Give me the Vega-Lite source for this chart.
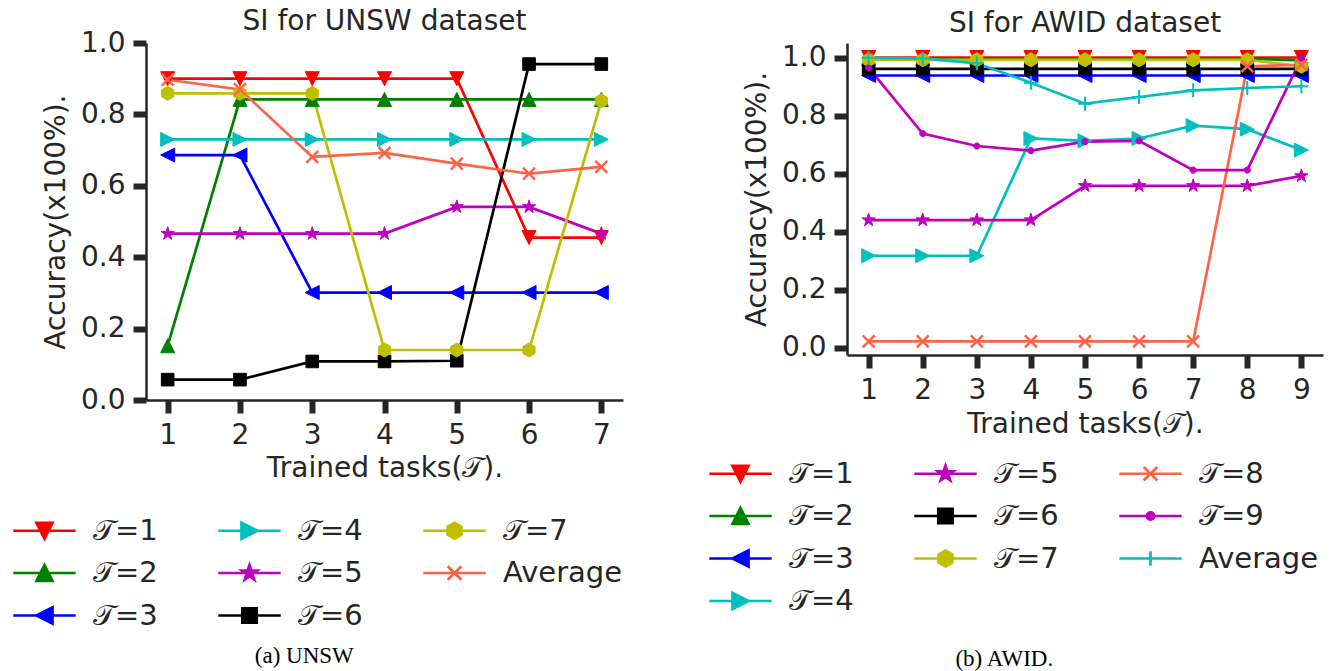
{
  "$schema": "https://vega.github.io/schema/vega-lite/v6.json",
  "padding": {"left": 30, "top": 8, "right": 5, "bottom": 5},
  "config": {
    "font": "DejaVu Sans",
    "view": {"stroke": null},
    "axis": {"domainColor": "#262626", "domainWidth": 2.5, "tickColor": "#262626", "tickWidth": 6, "tickSize": 13, "labelFontSize": 28, "labelColor": "#262626", "titleFontSize": 28, "titleFontWeight": "normal", "titleColor": "#262626", "grid": false, "labelPadding": 8},
    "title": {"fontSize": 28, "fontWeight": "normal", "color": "#262626"},
    "legend": {"labelFontSize": 29, "labelColor": "#262626", "symbolSize": 256, "symbolOffset": 0, "labelOffset": 34, "columnPadding": 54, "rowPadding": 12.5, "padding": 0, "symbolStrokeWidth": 2.7, "symbolOpacity": 1, "labelLimit": 300}
  },
  "datasets": {
    "unsw": [
      {"s": "1", "x": 1, "acc": 0.90}, {"s": "1", "x": 2, "acc": 0.90}, {"s": "1", "x": 3, "acc": 0.90}, {"s": "1", "x": 4, "acc": 0.90}, {"s": "1", "x": 5, "acc": 0.90}, {"s": "1", "x": 6, "acc": 0.455}, {"s": "1", "x": 7, "acc": 0.455},
      {"s": "2", "x": 1, "acc": 0.152}, {"s": "2", "x": 2, "acc": 0.842}, {"s": "2", "x": 3, "acc": 0.842}, {"s": "2", "x": 4, "acc": 0.842}, {"s": "2", "x": 5, "acc": 0.842}, {"s": "2", "x": 6, "acc": 0.842}, {"s": "2", "x": 7, "acc": 0.842},
      {"s": "3", "x": 1, "acc": 0.686}, {"s": "3", "x": 2, "acc": 0.686}, {"s": "3", "x": 3, "acc": 0.301}, {"s": "3", "x": 4, "acc": 0.301}, {"s": "3", "x": 5, "acc": 0.301}, {"s": "3", "x": 6, "acc": 0.301}, {"s": "3", "x": 7, "acc": 0.301},
      {"s": "4", "x": 1, "acc": 0.730}, {"s": "4", "x": 2, "acc": 0.730}, {"s": "4", "x": 3, "acc": 0.730}, {"s": "4", "x": 4, "acc": 0.730}, {"s": "4", "x": 5, "acc": 0.730}, {"s": "4", "x": 6, "acc": 0.730}, {"s": "4", "x": 7, "acc": 0.730},
      {"s": "5", "x": 1, "acc": 0.466}, {"s": "5", "x": 2, "acc": 0.466}, {"s": "5", "x": 3, "acc": 0.466}, {"s": "5", "x": 4, "acc": 0.466}, {"s": "5", "x": 5, "acc": 0.541}, {"s": "5", "x": 6, "acc": 0.541}, {"s": "5", "x": 7, "acc": 0.466},
      {"s": "6", "x": 1, "acc": 0.057}, {"s": "6", "x": 2, "acc": 0.057}, {"s": "6", "x": 3, "acc": 0.108}, {"s": "6", "x": 4, "acc": 0.108}, {"s": "6", "x": 5, "acc": 0.110}, {"s": "6", "x": 6, "acc": 0.941}, {"s": "6", "x": 7, "acc": 0.941},
      {"s": "7", "x": 1, "acc": 0.859}, {"s": "7", "x": 2, "acc": 0.859}, {"s": "7", "x": 3, "acc": 0.859}, {"s": "7", "x": 4, "acc": 0.140}, {"s": "7", "x": 5, "acc": 0.140}, {"s": "7", "x": 6, "acc": 0.140}, {"s": "7", "x": 7, "acc": 0.838},
      {"s": "Average", "x": 1, "acc": 0.897}, {"s": "Average", "x": 2, "acc": 0.870}, {"s": "Average", "x": 3, "acc": 0.681}, {"s": "Average", "x": 4, "acc": 0.692}, {"s": "Average", "x": 5, "acc": 0.662}, {"s": "Average", "x": 6, "acc": 0.634}, {"s": "Average", "x": 7, "acc": 0.653}
    ],
    "awid": [
      {"s": "1", "x": 1, "acc": 1.0}, {"s": "1", "x": 2, "acc": 1.0}, {"s": "1", "x": 3, "acc": 1.0}, {"s": "1", "x": 4, "acc": 1.0}, {"s": "1", "x": 5, "acc": 1.0}, {"s": "1", "x": 6, "acc": 1.0}, {"s": "1", "x": 7, "acc": 1.0}, {"s": "1", "x": 8, "acc": 1.0}, {"s": "1", "x": 9, "acc": 1.0},
      {"s": "2", "x": 1, "acc": 0.996}, {"s": "2", "x": 2, "acc": 0.996}, {"s": "2", "x": 3, "acc": 0.996}, {"s": "2", "x": 4, "acc": 0.996}, {"s": "2", "x": 5, "acc": 0.996}, {"s": "2", "x": 6, "acc": 0.996}, {"s": "2", "x": 7, "acc": 0.996}, {"s": "2", "x": 8, "acc": 0.996}, {"s": "2", "x": 9, "acc": 0.99},
      {"s": "3", "x": 1, "acc": 0.938}, {"s": "3", "x": 2, "acc": 0.938}, {"s": "3", "x": 3, "acc": 0.938}, {"s": "3", "x": 4, "acc": 0.938}, {"s": "3", "x": 5, "acc": 0.938}, {"s": "3", "x": 6, "acc": 0.938}, {"s": "3", "x": 7, "acc": 0.938}, {"s": "3", "x": 8, "acc": 0.938}, {"s": "3", "x": 9, "acc": 0.938},
      {"s": "4", "x": 1, "acc": 0.317}, {"s": "4", "x": 2, "acc": 0.317}, {"s": "4", "x": 3, "acc": 0.317}, {"s": "4", "x": 4, "acc": 0.721}, {"s": "4", "x": 5, "acc": 0.713}, {"s": "4", "x": 6, "acc": 0.721}, {"s": "4", "x": 7, "acc": 0.765}, {"s": "4", "x": 8, "acc": 0.753}, {"s": "4", "x": 9, "acc": 0.681},
      {"s": "5", "x": 1, "acc": 0.440}, {"s": "5", "x": 2, "acc": 0.440}, {"s": "5", "x": 3, "acc": 0.440}, {"s": "5", "x": 4, "acc": 0.440}, {"s": "5", "x": 5, "acc": 0.558}, {"s": "5", "x": 6, "acc": 0.558}, {"s": "5", "x": 7, "acc": 0.558}, {"s": "5", "x": 8, "acc": 0.558}, {"s": "5", "x": 9, "acc": 0.592},
      {"s": "6", "x": 1, "acc": 0.961}, {"s": "6", "x": 2, "acc": 0.961}, {"s": "6", "x": 3, "acc": 0.961}, {"s": "6", "x": 4, "acc": 0.961}, {"s": "6", "x": 5, "acc": 0.961}, {"s": "6", "x": 6, "acc": 0.961}, {"s": "6", "x": 7, "acc": 0.961}, {"s": "6", "x": 8, "acc": 0.961}, {"s": "6", "x": 9, "acc": 0.961},
      {"s": "7", "x": 1, "acc": 0.992}, {"s": "7", "x": 2, "acc": 0.992}, {"s": "7", "x": 3, "acc": 0.992}, {"s": "7", "x": 4, "acc": 0.992}, {"s": "7", "x": 5, "acc": 0.992}, {"s": "7", "x": 6, "acc": 0.992}, {"s": "7", "x": 7, "acc": 0.992}, {"s": "7", "x": 8, "acc": 0.992}, {"s": "7", "x": 9, "acc": 0.97},
      {"s": "8", "x": 1, "acc": 0.022}, {"s": "8", "x": 2, "acc": 0.022}, {"s": "8", "x": 3, "acc": 0.022}, {"s": "8", "x": 4, "acc": 0.022}, {"s": "8", "x": 5, "acc": 0.022}, {"s": "8", "x": 6, "acc": 0.022}, {"s": "8", "x": 7, "acc": 0.022}, {"s": "8", "x": 8, "acc": 0.97}, {"s": "8", "x": 9, "acc": 0.975},
      {"s": "9", "x": 1, "acc": 0.964}, {"s": "9", "x": 2, "acc": 0.738}, {"s": "9", "x": 3, "acc": 0.695}, {"s": "9", "x": 4, "acc": 0.679}, {"s": "9", "x": 5, "acc": 0.710}, {"s": "9", "x": 6, "acc": 0.713}, {"s": "9", "x": 7, "acc": 0.612}, {"s": "9", "x": 8, "acc": 0.612}, {"s": "9", "x": 9, "acc": 0.998},
      {"s": "Average", "x": 1, "acc": 0.999}, {"s": "Average", "x": 2, "acc": 0.997}, {"s": "Average", "x": 3, "acc": 0.98}, {"s": "Average", "x": 4, "acc": 0.913}, {"s": "Average", "x": 5, "acc": 0.841}, {"s": "Average", "x": 6, "acc": 0.864}, {"s": "Average", "x": 7, "acc": 0.887}, {"s": "Average", "x": 8, "acc": 0.895}, {"s": "Average", "x": 9, "acc": 0.901}
    ]
  },
  "spacing": 93,
  "resolve": {"scale": {"color": "independent", "shape": "independent", "fill": "independent"}, "legend": {"color": "independent", "shape": "independent", "fill": "independent"}},
  "hconcat": [
    {
      "title": {"text": "(a) UNSW", "orient": "bottom", "frame": "bounds", "anchor": "middle", "font": "Liberation Serif", "fontSize": 23, "fontWeight": "normal", "color": "#000000", "offset": 14, "dx": -27},
      "vconcat": [
        {
          "width": 477, "height": 357,
          "title": {"text": "SI for UNSW dataset", "offset": -7},
          "data": {"name": "unsw"},
          "encoding": {
            "x": {"field": "x", "type": "quantitative", "scale": {"domain": [0.7, 7.3], "nice": false, "zero": false}, "axis": {"values": [1, 2, 3, 4, 5, 6, 7], "format": "d", "title": "Trained tasks(𝒯).", "titleY": 68, "titleBaseline": "middle", "tickWidth": 6}},
            "y": {"field": "acc", "type": "quantitative", "scale": {"domain": [0, 1], "nice": false, "zero": false}, "axis": {"values": [0, 0.2, 0.4, 0.6, 0.8, 1.0], "format": ".1f", "title": "Accuracy(x100%).", "titleX": -90, "titleY": 178.6, "titleBaseline": "middle", "tickWidth": 6}}
          },
          "layer": [
            {
              "mark": {"type": "line", "strokeWidth": 2.7},
              "encoding": {
                "color": {"field": "s", "type": "nominal", "scale": {"domain": ["1", "2", "3", "4", "5", "6", "7", "Average"], "range": ["#ff0000", "#008000", "#0000ff", "#00bfbf", "#bf00bf", "#000000", "#bfbf00", "#ff6347"]},
                  "legend": {"orient": "none", "legendX": -116, "legendY": 473, "columns": 3, "title": null, "labelExpr": "datum.value === 'Average' ? 'Average' : '𝒯=' + datum.value"}}
              }
            },
            {"transform": [{"filter": "datum.s === '1'"}], "mark": {"type": "point", "shape": "M-1,-1L1,-1L0,1Z", "filled": true, "fill": "#ff0000", "stroke": "#ff0000", "strokeWidth": 1, "size": 196, "opacity": 1}},
            {"transform": [{"filter": "datum.s === '2'"}], "mark": {"type": "point", "shape": "M0,-1L1,1L-1,1Z", "filled": true, "fill": "#008000", "stroke": "#008000", "strokeWidth": 1, "size": 196, "opacity": 1}},
            {"transform": [{"filter": "datum.s === '3'"}], "mark": {"type": "point", "shape": "M-1,0L1,-1L1,1Z", "filled": true, "fill": "#0000ff", "stroke": "#0000ff", "strokeWidth": 1, "size": 196, "opacity": 1}},
            {"transform": [{"filter": "datum.s === '4'"}], "mark": {"type": "point", "shape": "M1,0L-1,-1L-1,1Z", "filled": true, "fill": "#00bfbf", "stroke": "#00bfbf", "strokeWidth": 1, "size": 196, "opacity": 1}},
            {"transform": [{"filter": "datum.s === '5'"}], "mark": {"type": "point", "shape": "M0,-1L0.225,-0.309L0.951,-0.309L0.363,0.118L0.588,0.809L0,0.382L-0.588,0.809L-0.363,0.118L-0.951,-0.309L-0.225,-0.309Z", "filled": true, "fill": "#bf00bf", "stroke": "#bf00bf", "strokeWidth": 1, "size": 196, "opacity": 1}},
            {"transform": [{"filter": "datum.s === '6'"}], "mark": {"type": "point", "shape": "M-0.9,-0.9H0.9V0.9H-0.9Z", "filled": true, "fill": "#000000", "stroke": "#000000", "strokeWidth": 1, "size": 196, "opacity": 1}},
            {"transform": [{"filter": "datum.s === '7'"}], "mark": {"type": "point", "shape": "M0,-1L0.866,-0.5L0.866,0.5L0,1L-0.866,0.5L-0.866,-0.5Z", "filled": true, "fill": "#bfbf00", "stroke": "#bfbf00", "strokeWidth": 1, "size": 196, "opacity": 1}},
            {"transform": [{"filter": "datum.s === 'Average'"}], "mark": {"type": "point", "shape": "M-0.85,-0.85L0.85,0.85M-0.85,0.85L0.85,-0.85", "filled": false, "stroke": "#ff6347", "strokeWidth": 2.5, "size": 196, "opacity": 1}},
            {
              "mark": {"type": "point", "filled": false, "size": 256, "opacity": 0},
              "encoding": {
                "color": {"field": "s", "type": "nominal", "scale": {"domain": ["1", "2", "3", "4", "5", "6", "7", "Average"], "range": ["#ff0000", "#008000", "#0000ff", "#00bfbf", "#bf00bf", "#000000", "#bfbf00", "#ff6347"]},
                  "legend": {"orient": "none", "legendX": -116, "legendY": 473, "columns": 3, "title": null, "labelExpr": "datum.value === 'Average' ? 'Average' : '𝒯=' + datum.value"}},
                "fill": {"field": "s", "type": "nominal", "scale": {"domain": ["1", "2", "3", "4", "5", "6", "7", "Average"], "range": ["#ff0000", "#008000", "#0000ff", "#00bfbf", "#bf00bf", "#000000", "#bfbf00", "#ff6347"]},
                  "legend": {"orient": "none", "legendX": -116, "legendY": 473, "columns": 3, "title": null, "labelExpr": "datum.value === 'Average' ? 'Average' : '𝒯=' + datum.value"}},
                "shape": {"field": "s", "type": "nominal", "scale": {"domain": ["1", "2", "3", "4", "5", "6", "7", "Average"], "range": ["M-3.9,0H3.9M-1,-1L1,-1L0,1Z", "M-3.9,0H3.9M0,-1L1,1L-1,1Z", "M-3.9,0H3.9M-1,0L1,-1L1,1Z", "M-3.9,0H3.9M1,0L-1,-1L-1,1Z", "M-3.9,0H3.9M0,-1L0.225,-0.309L0.951,-0.309L0.363,0.118L0.588,0.809L0,0.382L-0.588,0.809L-0.363,0.118L-0.951,-0.309L-0.225,-0.309Z", "M-3.9,0H3.9M-0.9,-0.9H0.9V0.9H-0.9Z", "M-3.9,0H3.9M0,-1L0.866,-0.5L0.866,0.5L0,1L-0.866,0.5L-0.866,-0.5Z", "M-3.9,0H3.9M-0.85,-0.85L0.85,0.85M-0.85,0.85L0.85,-0.85"]},
                  "legend": {"orient": "none", "legendX": -116, "legendY": 473, "columns": 3, "title": null, "labelExpr": "datum.value === 'Average' ? 'Average' : '𝒯=' + datum.value"}}
              }
            }
          ]
        }
      ]
    },
    {
      "title": {"text": "(b) AWID.", "orient": "bottom", "frame": "bounds", "anchor": "middle", "font": "Liberation Serif", "fontSize": 23, "fontWeight": "normal", "color": "#000000", "offset": 32, "dx": -25},
      "vconcat": [
        {
          "width": 476, "height": 312,
          "title": {"text": "SI for AWID dataset", "offset": 5},
          "data": {"name": "awid"},
          "encoding": {
            "x": {"field": "x", "type": "quantitative", "scale": {"domain": [0.6, 9.4], "nice": false, "zero": false}, "axis": {"values": [1, 2, 3, 4, 5, 6, 7, 8, 9], "format": "d", "title": "Trained tasks(𝒯).", "titleY": 69, "titleBaseline": "middle", "tickWidth": 6}},
            "y": {"field": "acc", "type": "quantitative", "scale": {"domain": [-0.025, 1.05], "nice": false, "zero": false}, "axis": {"values": [0, 0.2, 0.4, 0.6, 0.8, 1.0], "format": ".1f", "title": "Accuracy(x100%).", "titleX": -90, "titleY": 156, "titleBaseline": "middle", "tickWidth": 6}}
          },
          "layer": [
            {
              "mark": {"type": "line", "strokeWidth": 2.7},
              "encoding": {
                "color": {"field": "s", "type": "nominal", "scale": {"domain": ["1", "2", "3", "Average", "5", "6", "7", "4", "8", "9"], "range": ["#ff0000", "#008000", "#0000ff", "#00bfbf", "#bf00bf", "#000000", "#bfbf00", "#00bfbf", "#ff6347", "#bf00bf"]},
                  "legend": {"orient": "none", "legendX": -121, "legendY": 416, "columns": 3, "title": null, "labelExpr": "datum.value === 'Average' ? 'Average' : '𝒯=' + datum.value"}}
              }
            },
            {"transform": [{"filter": "datum.s === '1'"}], "mark": {"type": "point", "shape": "M-1,-1L1,-1L0,1Z", "filled": true, "fill": "#ff0000", "stroke": "#ff0000", "strokeWidth": 1, "size": 196, "opacity": 1}},
            {"transform": [{"filter": "datum.s === '2'"}], "mark": {"type": "point", "shape": "M0,-1L1,1L-1,1Z", "filled": true, "fill": "#008000", "stroke": "#008000", "strokeWidth": 1, "size": 196, "opacity": 1}},
            {"transform": [{"filter": "datum.s === '3'"}], "mark": {"type": "point", "shape": "M-1,0L1,-1L1,1Z", "filled": true, "fill": "#0000ff", "stroke": "#0000ff", "strokeWidth": 1, "size": 196, "opacity": 1}},
            {"transform": [{"filter": "datum.s === '4'"}], "mark": {"type": "point", "shape": "M1,0L-1,-1L-1,1Z", "filled": true, "fill": "#00bfbf", "stroke": "#00bfbf", "strokeWidth": 1, "size": 196, "opacity": 1}},
            {"transform": [{"filter": "datum.s === '5'"}], "mark": {"type": "point", "shape": "M0,-1L0.225,-0.309L0.951,-0.309L0.363,0.118L0.588,0.809L0,0.382L-0.588,0.809L-0.363,0.118L-0.951,-0.309L-0.225,-0.309Z", "filled": true, "fill": "#bf00bf", "stroke": "#bf00bf", "strokeWidth": 1, "size": 196, "opacity": 1}},
            {"transform": [{"filter": "datum.s === '6'"}], "mark": {"type": "point", "shape": "M-0.9,-0.9H0.9V0.9H-0.9Z", "filled": true, "fill": "#000000", "stroke": "#000000", "strokeWidth": 1, "size": 196, "opacity": 1}},
            {"transform": [{"filter": "datum.s === '7'"}], "mark": {"type": "point", "shape": "M0,-1L0.866,-0.5L0.866,0.5L0,1L-0.866,0.5L-0.866,-0.5Z", "filled": true, "fill": "#bfbf00", "stroke": "#bfbf00", "strokeWidth": 1, "size": 196, "opacity": 1}},
            {"transform": [{"filter": "datum.s === '8'"}], "mark": {"type": "point", "shape": "M-0.85,-0.85L0.85,0.85M-0.85,0.85L0.85,-0.85", "filled": false, "stroke": "#ff6347", "strokeWidth": 2.5, "size": 196, "opacity": 1}},
            {"transform": [{"filter": "datum.s === '9'"}], "mark": {"type": "point", "shape": "M-0.45,0A0.45,0.45 0 1,0 0.45,0A0.45,0.45 0 1,0 -0.45,0Z", "filled": true, "fill": "#bf00bf", "stroke": "#bf00bf", "strokeWidth": 1, "size": 196, "opacity": 1}},
            {"transform": [{"filter": "datum.s === 'Average'"}], "mark": {"type": "point", "shape": "M-1,0H1M0,-1V1", "filled": false, "stroke": "#00bfbf", "strokeWidth": 2, "size": 196, "opacity": 1}},
            {
              "mark": {"type": "point", "filled": false, "size": 256, "opacity": 0},
              "encoding": {
                "color": {"field": "s", "type": "nominal", "scale": {"domain": ["1", "2", "3", "Average", "5", "6", "7", "4", "8", "9"], "range": ["#ff0000", "#008000", "#0000ff", "#00bfbf", "#bf00bf", "#000000", "#bfbf00", "#00bfbf", "#ff6347", "#bf00bf"]},
                  "legend": {"orient": "none", "legendX": -121, "legendY": 416, "columns": 3, "title": null, "labelExpr": "datum.value === 'Average' ? 'Average' : '𝒯=' + datum.value"}},
                "fill": {"field": "s", "type": "nominal", "scale": {"domain": ["1", "2", "3", "Average", "5", "6", "7", "4", "8", "9"], "range": ["#ff0000", "#008000", "#0000ff", "#00bfbf", "#bf00bf", "#000000", "#bfbf00", "#00bfbf", "#ff6347", "#bf00bf"]},
                  "legend": {"orient": "none", "legendX": -121, "legendY": 416, "columns": 3, "title": null, "labelExpr": "datum.value === 'Average' ? 'Average' : '𝒯=' + datum.value"}},
                "shape": {"field": "s", "type": "nominal", "scale": {"domain": ["1", "2", "3", "Average", "5", "6", "7", "4", "8", "9"], "range": ["M-3.9,0H3.9M-1,-1L1,-1L0,1Z", "M-3.9,0H3.9M0,-1L1,1L-1,1Z", "M-3.9,0H3.9M-1,0L1,-1L1,1Z", "M-3.9,0H3.9M0,-0.9V0.9", "M-3.9,0H3.9M0,-1L0.225,-0.309L0.951,-0.309L0.363,0.118L0.588,0.809L0,0.382L-0.588,0.809L-0.363,0.118L-0.951,-0.309L-0.225,-0.309Z", "M-3.9,0H3.9M-0.9,-0.9H0.9V0.9H-0.9Z", "M-3.9,0H3.9M0,-1L0.866,-0.5L0.866,0.5L0,1L-0.866,0.5L-0.866,-0.5Z", "M-3.9,0H3.9M1,0L-1,-1L-1,1Z", "M-3.9,0H3.9M-0.85,-0.85L0.85,0.85M-0.85,0.85L0.85,-0.85", "M-3.9,0H3.9M-0.45,0A0.45,0.45 0 1,0 0.45,0A0.45,0.45 0 1,0 -0.45,0Z"]},
                  "legend": {"orient": "none", "legendX": -121, "legendY": 416, "columns": 3, "title": null, "labelExpr": "datum.value === 'Average' ? 'Average' : '𝒯=' + datum.value"}}
              }
            }
          ]
        }
      ]
    }
  ]
}
